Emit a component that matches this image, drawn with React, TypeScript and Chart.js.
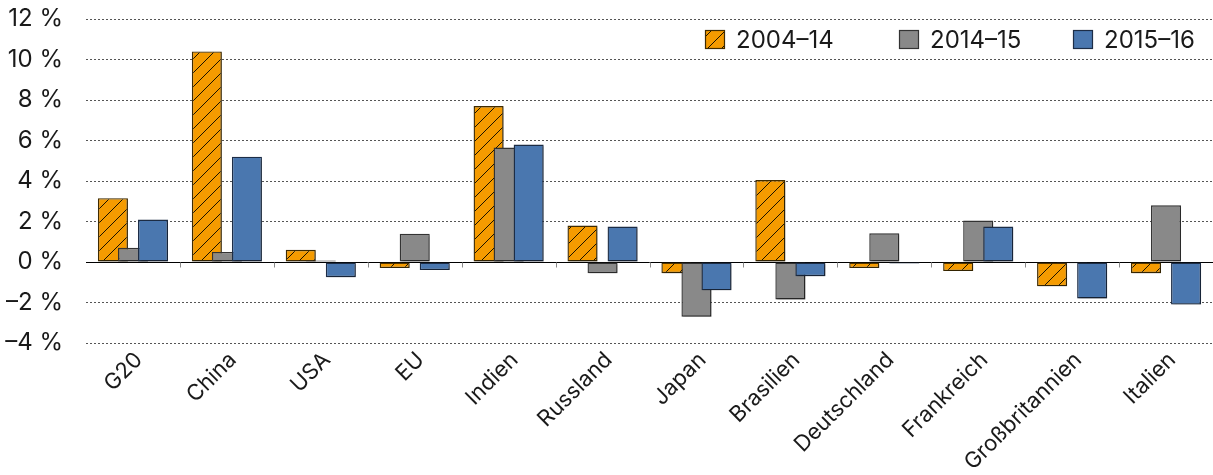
import React, { useEffect, useRef } from 'react';
import { Chart, registerables } from 'chart.js';

Chart.register(...registerables);

// Countries / regions on the x axis
const categories = [
  'G20', 'China', 'USA', 'EU', 'Indien', 'Russland',
  'Japan', 'Brasilien', 'Deutschland', 'Frankreich', 'Großbritannien', 'Italien',
];

// Period labels of the three series
const seriesLabels = ['2004–14', '2014–15', '2015–16'];

// Average growth rates in percent
const growth2004to14 = [3.15, 10.4, 0.6, -0.3, 7.7, 1.8, -0.55, 4.05, -0.3, -0.45, -1.2, -0.55];
const growth2014to15 = [0.7, 0.5, 0.08, 1.4, 5.65, -0.55, -2.7, -1.85, 1.42, 2.05, -0.06, 2.8];
const growth2015to16 = [2.1, 5.2, -0.75, -0.4, 5.8, 1.75, -1.4, -0.7, -0.08, 1.75, -1.8, -2.1];

// Value axis range and step
const yMin = -4;
const yMax = 12;
const yStep = 2;

const FONT_FAMILY = 'Inter, "Noto Sans", sans-serif';
const TEXT_COLOR = '#1a1a1a';

const ORANGE = '#F59B00';
const ORANGE_EDGE = '#3f2b00';
const GREY = '#898989';
const GREY_EDGE = '#333333';
const BLUE = '#4A77AF';
const BLUE_EDGE = '#1d2d46';

function makeHatch(): CanvasPattern | string {
  const size = 14;
  const c = document.createElement('canvas');
  c.width = size;
  c.height = size;
  const g = c.getContext('2d');
  if (!g) return ORANGE;
  g.fillStyle = ORANGE;
  g.fillRect(0, 0, size, size);
  g.strokeStyle = '#1a1200';
  g.lineWidth = 1;
  g.beginPath();
  g.moveTo(0, size);
  g.lineTo(size, 0);
  g.moveTo(-size / 2, size / 2);
  g.lineTo(size / 2, -size / 2);
  g.moveTo(size / 2, size * 1.5);
  g.lineTo(size * 1.5, size / 2);
  g.stroke();
  const p = g.createPattern(c, 'repeat');
  return p || ORANGE;
}

function formatPercent(v: number): string {
  return (v < 0 ? '\u2013' + Math.abs(v) : String(v)) + ' %';
}

export default function App() {
  const canvasRef = useRef<HTMLCanvasElement | null>(null);

  useEffect(() => {
    const canvas = canvasRef.current;
    if (!canvas) return;
    const hatch = makeHatch();

    const fills = [hatch, GREY, BLUE];
    const edges = [ORANGE_EDGE, GREY_EDGE, BLUE_EDGE];
    const series = [growth2004to14, growth2014to15, growth2015to16];

    // Zero line, category tick marks, bar drawing order with shadow, and legend
    const chartDecor = {
      id: 'chartDecor',
      beforeDatasetsDraw(chart: any) {
        const { ctx, chartArea, scales } = chart;
        const yScale = scales.y;
        const xScale = scales.x;
        const y0 = Math.round(yScale.getPixelForValue(0)) + 0.5;
        ctx.save();
        ctx.strokeStyle = '#000';
        ctx.lineWidth = 1;
        ctx.beginPath();
        ctx.moveTo(chartArea.left, y0);
        ctx.lineTo(chartArea.right, y0);
        ctx.stroke();
        ctx.strokeStyle = '#8a8a8a';
        ctx.beginPath();
        for (let i = 1; i < categories.length; i++) {
          const x = Math.round((xScale.getPixelForValue(i - 1) + xScale.getPixelForValue(i)) / 2) + 0.5;
          ctx.moveTo(x, y0);
          ctx.lineTo(x, y0 + 5);
        }
        ctx.stroke();
        ctx.restore();
      },
      beforeDatasetDraw() {
        return false;
      },
      afterDatasetsDraw(chart: any) {
        const ctx = chart.ctx;
        const metas = chart.getSortedVisibleDatasetMetas().slice().sort((a: any, b: any) => a.index - b.index);
        for (const meta of metas) {
          ctx.save();
          ctx.shadowColor = 'rgba(0,0,0,0.28)';
          ctx.shadowBlur = 2;
          ctx.shadowOffsetX = 1.5;
          ctx.shadowOffsetY = 1.5;
          meta.controller.draw();
          ctx.restore();
        }
      },
      afterDraw(chart: any) {
        const ctx = chart.ctx;
        const boxX = [705, 899, 1073];
        const boxY = 30;
        const boxW = 20;
        const boxH = 19;
        ctx.save();
        ctx.font = `24px ${FONT_FAMILY}`;
        ctx.textBaseline = 'middle';
        ctx.textAlign = 'left';
        seriesLabels.forEach((label, i) => {
          ctx.fillStyle = fills[i];
          ctx.fillRect(boxX[i], boxY, boxW, boxH);
          ctx.strokeStyle = edges[i];
          ctx.lineWidth = 1.2;
          ctx.strokeRect(boxX[i] + 0.5, boxY + 0.5, boxW - 1, boxH - 1);
          ctx.fillStyle = TEXT_COLOR;
          ctx.fillText(label, boxX[i] + 31, boxY + boxH / 2 + 1);
        });
        ctx.restore();
      },
    };

    const chart = new Chart(canvas, {
      type: 'bar',
      data: {
        labels: categories,
        datasets: series.map((values, i) => ({
          label: seriesLabels[i],
          data: values,
          backgroundColor: fills[i] as any,
          borderColor: edges[i],
          borderWidth: 1.4,
          borderSkipped: false,
          categoryPercentage: 0.64,
          barPercentage: 1.5,
        })),
      },
      options: {
        responsive: false,
        animation: false,
        devicePixelRatio: 1,
        layout: { padding: { top: 19, left: 0, right: 0, bottom: 0 } },
        plugins: {
          legend: { display: false },
          tooltip: { enabled: false },
        },
        scales: {
          x: {
            grid: { display: false },
            border: { display: false },
            ticks: {
              autoSkip: false,
              minRotation: 45,
              maxRotation: 45,
              padding: -4,
              labelOffset: 6,
              color: TEXT_COLOR,
              font: { family: FONT_FAMILY, size: 22 },
            },
            afterFit(scale: any) {
              scale.height = 132;
              scale.paddingLeft = 0;
              scale.paddingRight = 0;
            },
          },
          y: {
            min: yMin,
            max: yMax,
            ticks: {
              stepSize: yStep,
              padding: 23,
              color: TEXT_COLOR,
              font: { family: FONT_FAMILY, size: 24 },
              callback: (v: any) => formatPercent(Number(v)),
            },
            grid: {
              drawTicks: false,
              lineWidth: 1,
              color: (c: any) => (c.tick && c.tick.value === 0 ? 'rgba(0,0,0,0)' : '#555555'),
            },
            border: { display: false, dash: [2, 2] },
            afterFit(scale: any) {
              scale.width = 86;
              scale.paddingTop = 0;
              scale.paddingBottom = 0;
            },
          },
        },
      },
      plugins: [chartDecor],
    });

    return () => {
      chart.destroy();
    };
  }, []);

  return (
    <div style={{ position: 'absolute', left: 0, top: 0, width: 1213, height: 475, background: '#fff' }}>
      <canvas ref={canvasRef} width={1213} height={475} style={{ display: 'block' }} />
    </div>
  );
}
